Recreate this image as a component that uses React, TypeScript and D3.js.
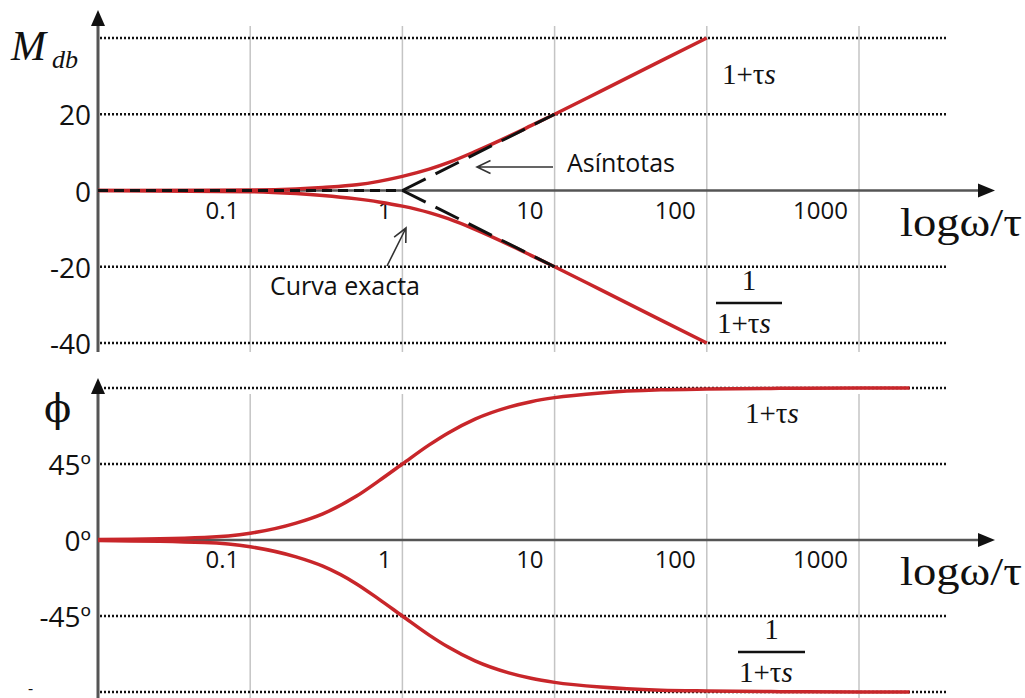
import * as d3 from "d3";

// decades on the frequency axis
const decadeTicks = [0.1, 1, 10, 100, 1000];
const decadeLabels = ["0.1", "1", "10", "100", "1000"];

// magnitude panel (dB)
const magGrid = [40, 20, -20, -40];
const magTicks = [20, 0, -20, -40];
const magLabels = ["20", "0", "-20", "-40"];

// exact curves
const magOmega = [0.01, 0.1, 0.2, 0.3, 0.5, 0.7, 1, 1.5, 2, 3, 5, 7, 10, 20, 50, 100];
const magZero = [0, 0.1, 0.4, 0.8, 1.5, 2.4, 3.7, 5.6, 7.3, 10.2, 14.2, 17, 20, 26, 34, 40];
const magPole = [0, -0.3, -0.8, -1.3, -2.2, -3, -4.1, -5.8, -7.4, -10.2, -14.2, -17, -20, -26, -34, -40];

// straight-line asymptotes
const asymOmega = [0.01, 1, 10];
const asymZero = [0, 0, 20];
const asymPole = [0, 0, -20];

// phase panel (degrees)
const phaseGrid = [90, 45, -45, -90];
const phaseTicks = [45, 0, -45];
const phaseLabels = ["45º", "0º", "-45º"];
const phaseOmega = [0.01, 0.05, 0.1, 0.2, 0.3, 0.5, 0.7, 1, 1.5, 2, 3, 5, 7, 10, 20, 50, 100, 300, 1000, 2150];
const phaseZero = [0.3, 1.5, 4, 10, 15.5, 26, 35, 45, 56.3, 63.4, 71.6, 78.7, 81.9, 84.3, 87.1, 88.9, 89.4, 89.8, 90, 90];
const phasePole = [-0.3, -1.5, -4, -10, -15.5, -26, -35, -45, -56.3, -63.4, -71.6, -78.7, -81.9, -84.3, -87.1, -88.9, -89.4, -89.8, -90, -90];

const SANS = "'Open Sans', 'Noto Sans', sans-serif";
const SERIF = "'Liberation Serif', 'Times New Roman', serif";
const RED = "#c8262a";
const AXIS = "#555";

const x = d3.scaleLog().domain([0.01, 1000]).range([98, 859]);
const yMag = d3.scaleLinear().domain([-40, 40]).range([343, 38]);
const yPh = d3.scaleLinear().domain([-90, 90]).range([692, 388]);

const gridRight = 948;
const axisTip = 995;

const pts = (xs: number[], ys: number[]) => xs.map((v, i) => [v, ys[i]] as [number, number]);

// open arrow: shaft plus two wings at the head
function arrowPath(x1: number, y1: number, x2: number, y2: number, len = 15, ang = 0.45) {
  const a = Math.atan2(y1 - y2, x1 - x2);
  const w1 = [x2 + len * Math.cos(a + ang), y2 + len * Math.sin(a + ang)];
  const w2 = [x2 + len * Math.cos(a - ang), y2 + len * Math.sin(a - ang)];
  return `M${x1},${y1}L${x2},${y2}M${w1[0]},${w1[1]}L${x2},${y2}L${w2[0]},${w2[1]}`;
}

function OnePlusTauS({ x0, y0, size = 29 }: { x0: number; y0: number; size?: number }) {
  return (
    <text x={x0} y={y0} fontFamily={SERIF} fontSize={size} fill="#111">
      1+τ
      <tspan fontStyle="italic">s</tspan>
    </text>
  );
}

function Fraction({ x0, x1, yBar }: { x0: number; x1: number; yBar: number }) {
  return (
    <g>
      <text x={(x0 + x1) / 2} y={yBar - 13} textAnchor="middle" fontFamily={SERIF} fontSize={29} fill="#111">
        1
      </text>
      <line x1={x0} x2={x1} y1={yBar} y2={yBar} stroke="#111" strokeWidth={2.5} />
      <OnePlusTauS x0={x0 + 1} y0={yBar + 30} />
    </g>
  );
}

function Panel({
  y,
  grid,
  ticks,
  labels,
  top,
  bottom,
}: {
  y: d3.ScaleLinear<number, number>;
  grid: number[];
  ticks: number[];
  labels: string[];
  top: number;
  bottom: number;
}) {
  const y0 = y(0);
  return (
    <g>
      {decadeTicks.map((t) => (
        <line key={t} x1={x(t)} x2={x(t)} y1={top} y2={bottom} stroke="#c4c4c4" strokeWidth={1.5} />
      ))}
      {grid.map((g) => (
        <line
          key={g}
          x1={100}
          x2={gridRight}
          y1={y(g)}
          y2={y(g)}
          stroke="#111"
          strokeWidth={2.5}
          strokeDasharray="2 2"
        />
      ))}
      {/* axes */}
      <line x1={98} x2={98} y1={top} y2={bottom} stroke={AXIS} strokeWidth={3} />
      <path d={`M98,${top - 16}L${91},${top}L${105},${top}Z`} fill="#111" />
      <line x1={98} x2={axisTip - 14} y1={y0} y2={y0} stroke={AXIS} strokeWidth={2.5} />
      <path d={`M${axisTip},${y0}L${axisTip - 17},${y0 - 7}L${axisTip - 17},${y0 + 7}Z`} fill="#111" />
      {ticks.map((t, i) => (
        <text
          key={t}
          x={91}
          y={y(t)}
          textAnchor="end"
          dominantBaseline="central"
          fontFamily={SANS}
          fontSize={28}
          fill="#111"
        >
          {labels[i]}
        </text>
      ))}
      {decadeTicks.map((t, i) => (
        <text key={t} x={x(t) - 11} y={y0 + 28} textAnchor="end" fontFamily={SANS} fontSize={24} fill="#111">
          {decadeLabels[i]}
        </text>
      ))}
      <text x={900} y={y0 + 45} fontFamily={SERIF} fontSize={40} textLength={122} lengthAdjust="spacingAndGlyphs" fill="#111">
        logω/τ
      </text>
    </g>
  );
}

export default function App() {
  const magLine = d3
    .line<[number, number]>()
    .x((d) => x(d[0]))
    .y((d) => yMag(d[1]))
    .curve(d3.curveMonotoneX);
  const phLine = d3
    .line<[number, number]>()
    .x((d) => x(d[0]))
    .y((d) => yPh(d[1]))
    .curve(d3.curveMonotoneX);
  const asymLine = d3
    .line<[number, number]>()
    .x((d) => x(d[0]))
    .y((d) => yMag(d[1]));

  const breakX = x(asymOmega[1]);
  const breakY = yMag(asymZero[1]);

  return (
    <svg
      width={1025}
      height={698}
      style={{ position: "absolute", left: 0, top: 0, background: "#fff" }}
    >
      <Panel y={yMag} grid={magGrid} ticks={magTicks} labels={magLabels} top={26} bottom={352} />
      <Panel y={yPh} grid={phaseGrid} ticks={phaseTicks} labels={phaseLabels} top={394} bottom={698} />

      {/* exact curves */}
      <path d={magLine(pts(magOmega, magZero)) || ""} fill="none" stroke={RED} strokeWidth={3.5} />
      <path d={magLine(pts(magOmega, magPole)) || ""} fill="none" stroke={RED} strokeWidth={3.5} />
      <path d={phLine(pts(phaseOmega, phaseZero)) || ""} fill="none" stroke={RED} strokeWidth={3.5} />
      <path d={phLine(pts(phaseOmega, phasePole)) || ""} fill="none" stroke={RED} strokeWidth={3.5} />

      {/* asymptotes */}
      <path
        d={asymLine(pts(asymOmega.slice(0, 2), asymZero.slice(0, 2))) || ""}
        fill="none"
        stroke="#111"
        strokeWidth={3}
        strokeDasharray="10 6"
      />
      <path
        d={`M${breakX},${breakY}L${x(asymOmega[2])},${yMag(asymZero[2])}`}
        fill="none"
        stroke="#111"
        strokeWidth={3}
        strokeDasharray="26 11"
      />
      <path
        d={`M${breakX},${breakY}L${x(asymOmega[2])},${yMag(asymPole[2])}`}
        fill="none"
        stroke="#111"
        strokeWidth={3}
        strokeDasharray="26 11"
      />

      {/* annotations */}
      <text x={567} y={172} fontFamily={SANS} fontSize={25} fill="#111">
        Asíntotas
      </text>
      <path d={arrowPath(553, 167, 477, 167)} fill="none" stroke="#333" strokeWidth={1.6} />
      <text x={270} y={295} fontFamily={SANS} fontSize={25} fill="#111">
        Curva exacta
      </text>
      <path d={arrowPath(387, 266, 406, 228)} fill="none" stroke="#333" strokeWidth={1.6} />

      {/* axis titles */}
      <text x={11} y={60} fontFamily={SERIF} fontSize={42} fontStyle="italic" fill="#111">
        M
      </text>
      <text x={52} y={68} fontFamily={SERIF} fontSize={26} fontStyle="italic" fill="#111">
        db
      </text>
      <text x={44} y={422} fontFamily="'DejaVu Serif', serif" fontSize={40} fill="#111">
        ϕ
      </text>
      <text x={28} y={694} fontFamily={SANS} fontSize={16} fill="#111">
        -
      </text>

      {/* transfer function labels */}
      <OnePlusTauS x0={722} y0={84} />
      <Fraction x0={716} x1={782} yBar={303} />
      <OnePlusTauS x0={745} y0={423} />
      <Fraction x0={738} x1={805} yBar={652} />
    </svg>
  );
}
